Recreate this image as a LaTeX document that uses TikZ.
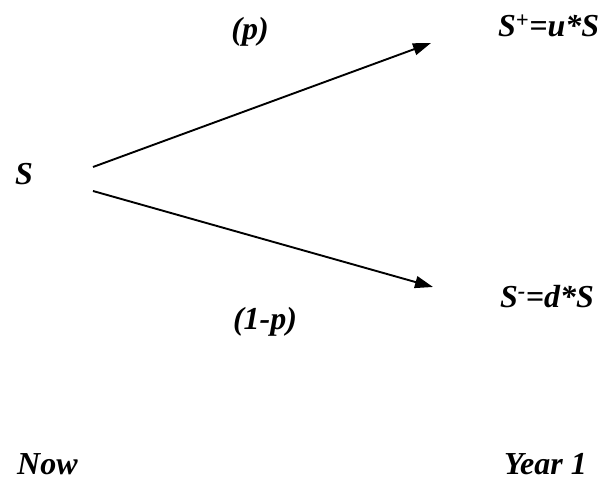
\documentclass[tikz,border=0pt]{standalone}
\usepackage{fontspec}
\setmainfont{Liberation Serif}
\usetikzlibrary{arrows.meta,positioning}

\begin{document}
\begin{tikzpicture}[
    x=1pt, y=1pt,
    lbl/.style={font=\fontsize{32}{36}\selectfont\bfseries\itshape, inner sep=0pt},
    arr/.style={-{Triangle[length=18pt, width=12pt]}, line width=1.9pt},
  ]
  \useasboundingbox (0,0) rectangle (598,481);
  \node[lbl] (s0) at (24,307) {S};
  \node[lbl] (prob) at (250,449) {(p)};
  \node[lbl, anchor=base west] (sup) at (498,444) {S\textsuperscript{+}=u*S};
  \node[lbl, anchor=base west] (sdown) at (500,173) {S\textsuperscript{-}=d*S};
  \node[lbl] (qprob) at (265,159) {(1-p)};
  \node[lbl, anchor=base west] (now) at (17,6) {Now};
  \node[lbl, anchor=base east] (year) at (587,6) {Year 1};

  \coordinate (upfrom) at (93,314);
  \coordinate (upto) at (431,438);
  \coordinate (downfrom) at (93,290);
  \coordinate (downto) at (433,194);

  \draw[arr] (upfrom) -- (upto);
  \draw[arr] (downfrom) -- (downto);
\end{tikzpicture}
\end{document}
